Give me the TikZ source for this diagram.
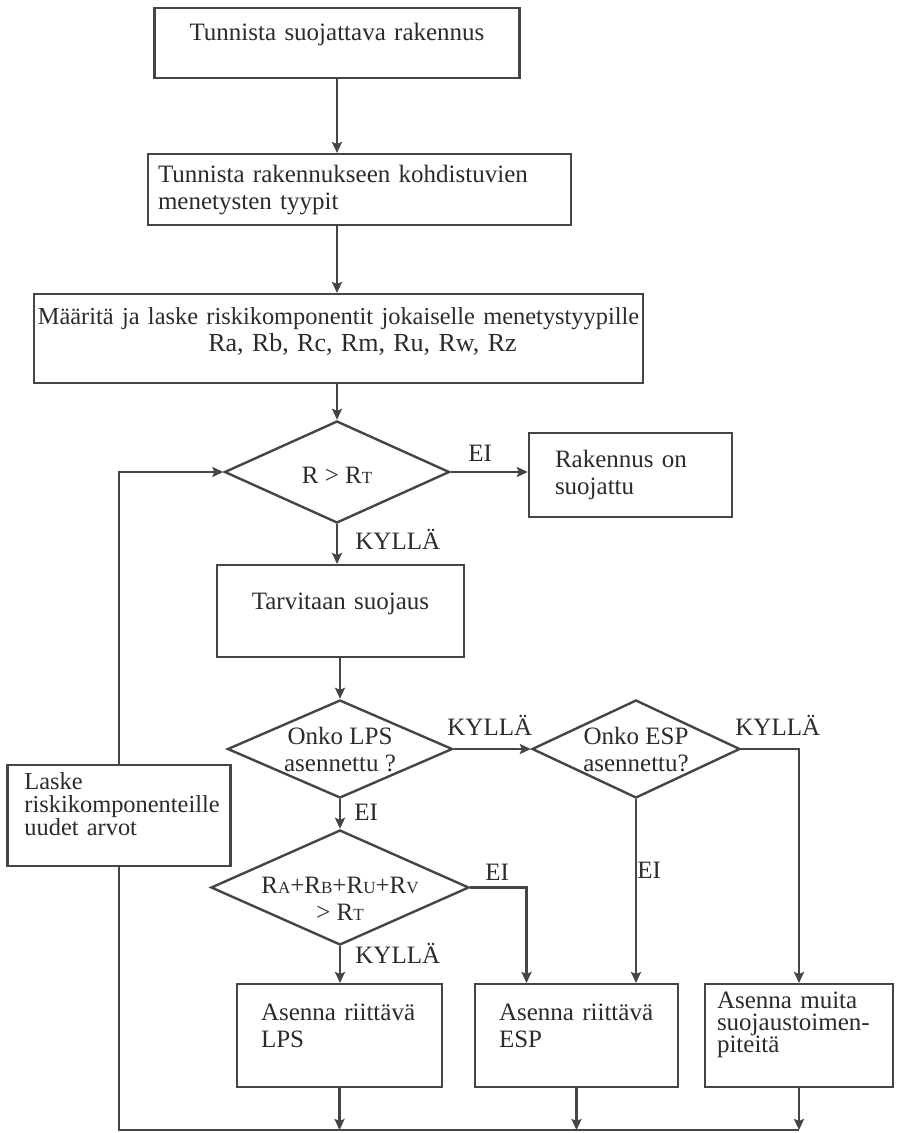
\documentclass[tikz,border=0pt]{standalone}
\usepackage{fontspec}
\setmainfont{Liberation Serif}
\usetikzlibrary{shapes.geometric,positioning,arrows.meta}
\tikzset{>={Stealth[length=5.5pt,width=5pt,inset=1pt]}}
\definecolor{viiva}{HTML}{454545}
\definecolor{musta}{HTML}{2B2B2B}
\hyphenpenalty=10000
\exhyphenpenalty=10000
\tikzset{
  laatikko/.style={draw=viiva, line width=1.2pt, anchor=north, inner ysep=0pt, text=musta,
    font=\fontsize{12.5}{13.5}\selectfont},
  paatos/.style={draw=viiva, line width=1.2pt, diamond, inner sep=0pt},
  ehtoteksti/.style={text=musta, align=center, inner sep=0pt, font=\fontsize{12.5}{13.5}\selectfont},
  vastaus/.style={text=musta, anchor=base west, inner sep=0pt, font=\fontsize{12.5}{13.5}\selectfont},
  nuoli/.style={->, draw=viiva, line width=1.2pt}
}
\newcommand{\pien}[1]{{\fontsize{8.5}{9}\selectfont #1}}

\begin{document}
\begin{tikzpicture}[x=0.5pt,y=-0.5pt]
  \useasboundingbox (0,0) rectangle (897,1133);

  \node[laatikko, text width=172.5pt, inner xsep=5pt, align=center, text height=16pt, text depth=19pt]
    (tunnista) at (337,7) {Tunnista suojattava rakennus};
  \node[laatikko, text width=201.5pt, inner xsep=5pt, align=left, text height=14pt, text depth=21.5pt]
    (tyypit) at (359.5,153) {Tunnista rakennukseen kohdistuvien\\menetysten tyypit};
  \node[laatikko, text width=301pt, inner xsep=1.75pt, align=center, text height=15pt, text depth=29.5pt]
    (maarita) at (338.5,293) {{\fontsize{12.2}{13}\selectfont Määritä ja laske riskikomponentit jokaiselle menetystyypille}\\
      \hspace*{24pt}{\fontsize{13}{13.5}\selectfont Ra, Rb, Rc, Rm, Ru, Rw, Rz}};

  \node[paatos, minimum width=112.5pt, minimum height=51pt] (ehto) at (337,472) {};
  \node[ehtoteksti] (ehtot) at (337,475) {R > R\pien{T}};

  \node[laatikko, text width=75.5pt, inner xsep=13pt, align=left, text height=17pt, text depth=25pt]
    (suojattu) at (630.5,432) {Rakennus on\\suojattu};
  \node[laatikko, text width=113.5pt, inner xsep=5pt, align=center, text height=22pt, text depth=24pt]
    (tarvitaan) at (340.5,564) {Tarvitaan suojaus};

  \node[paatos, minimum width=112.5pt, minimum height=49pt] (onkolps) at (340,749) {};
  \node[ehtoteksti] (onkolpst) at (340,749) {Onko LPS\\asennettu ?};
  \node[paatos, minimum width=104pt, minimum height=49pt] (onkoesp) at (636,749) {};
  \node[ehtoteksti] (onkoespt) at (636,749) {Onko ESP\\asennettu?};
  \node[paatos, minimum width=129pt, minimum height=57.5pt] (summa) at (340,887.5) {};
  \node[ehtoteksti] (summat) at (340,898.5) {R\pien{A}+R\pien{B}+R\pien{U}+R\pien{V}\\> R\pien{T}};

  \node[laatikko, text width=94.5pt, inner xsep=8.5pt, align=left, text height=12pt, text depth=38.5pt,
    font=\fontsize{12.2}{11.5}\selectfont]
    (laske) at (119,764) {Laske\\riskikomponenteille\\uudet arvot};

  \node[laatikko, text width=78.5pt, inner xsep=12pt, align=left, text height=18pt, text depth=33.5pt]
    (lps) at (339.5,983) {Asenna riittävä\\LPS};
  \node[laatikko, text width=77.5pt, inner xsep=12pt, align=left, text height=18pt, text depth=33.5pt]
    (esp) at (576.5,983) {Asenna riittävä\\ESP};
  \node[laatikko, text width=82pt, inner xsep=6pt, align=left, text height=12pt, text depth=39.5pt,
    font=\fontsize{12.5}{11}\selectfont]
    (muita) at (799,983) {Asenna muita\\suojaustoimen-\\piteitä};

  \coordinate (kulma) at (119,1130);

  % kyllä / ei
  \node[vastaus] (ei1) at (468,461) {EI};
  \node[vastaus] (kylla1) at (355,549) {KYLLÄ};
  \node[vastaus] (kylla2) at (447,735) {KYLLÄ};
  \node[vastaus] (kylla3) at (735,735) {KYLLÄ};
  \node[vastaus] (ei2) at (354,820) {EI};
  \node[vastaus] (ei3) at (485,880) {EI};
  \node[vastaus] (ei4) at (637,878) {EI};
  \node[vastaus] (kylla4) at (355,963) {KYLLÄ};

  \draw[nuoli] (tunnista.south) -- (tunnista.south |- tyypit.north);
  \draw[nuoli] (tunnista.south |- tyypit.south) -- (tunnista.south |- maarita.north);
  \draw[nuoli] (ehto |- maarita.south) -- (ehto.north);
  \draw[nuoli] (ehto.east) -- (ehto.east -| suojattu.west);
  \draw[nuoli] (ehto.south) -- (ehto.south |- tarvitaan.north);
  \draw[nuoli] (onkolps |- tarvitaan.south) -- (onkolps.north);
  \draw[nuoli] (onkolps.east) -- (onkoesp.west);
  \draw[nuoli] (onkolps.south) -- (summa.north);
  \draw[nuoli] (summa.south) -- (summa.south |- lps.north);
  \draw[nuoli] (summa.east) -| ([xshift=-25pt]esp.north);
  \draw[nuoli] (onkoesp.south) -- (onkoesp.south |- esp.north);
  \draw[nuoli] (onkoesp.east) -| (muita.north);

  \draw[nuoli] (lps.south) -- (lps.south |- kulma);
  \draw[nuoli] (esp.south) -- (esp.south |- kulma);
  \draw[nuoli] (muita.south) -- (muita.south |- kulma);
  \draw[viiva, line width=1.2pt] (muita.south |- kulma) -- (kulma) -- (laske.south);
  \draw[nuoli] (laske.north) |- (ehto.west);
\end{tikzpicture}
\end{document}
